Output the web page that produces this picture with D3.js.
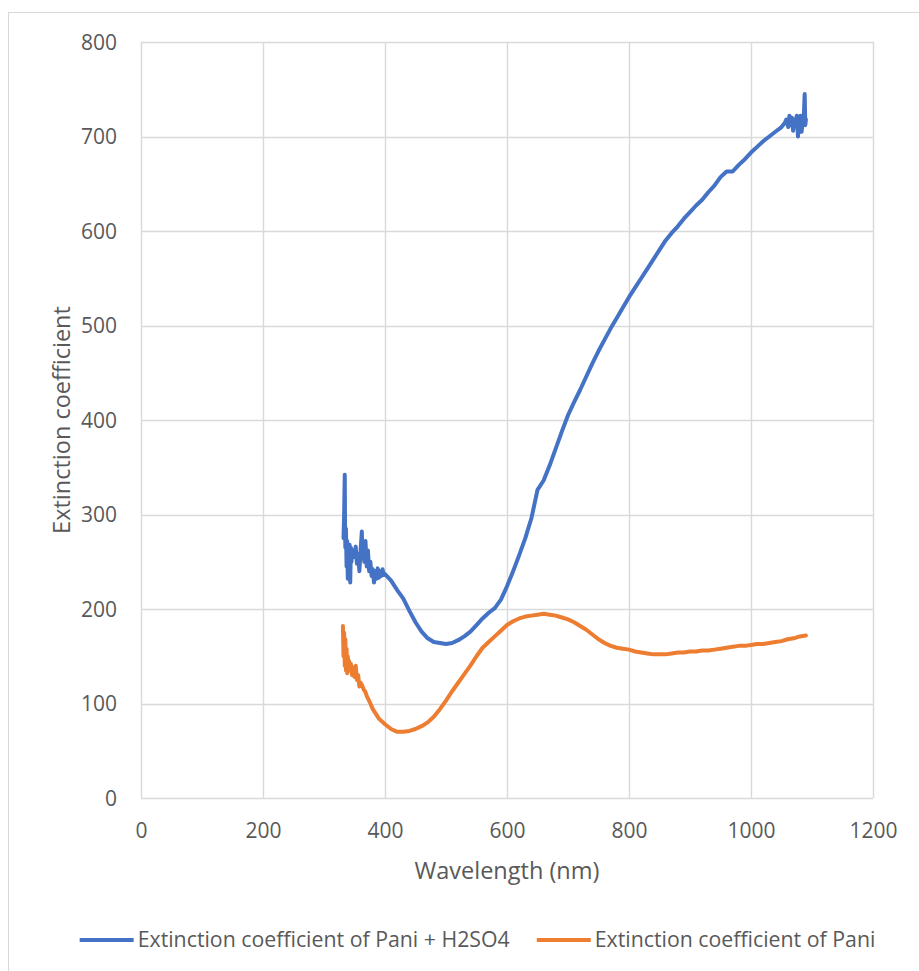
<!DOCTYPE html>
<html><head><meta charset="utf-8">
<script src="https://cdn.jsdelivr.net/npm/d3@7"></script>
<style>
body{margin:0;background:#fff;}
text{font-family:"Open Sans","Noto Sans",sans-serif;fill:#595959;}
</style></head><body>
<svg id="c" width="919" height="971"></svg>
<script>
// ---- Data ----
const xTicks = [0,200,400,600,800,1000,1200];
const yTicks = [0,100,200,300,400,500,600,700,800];
const seriesNames = ["Extinction coefficient of Pani + H2SO4","Extinction coefficient of Pani"];
const seriesColors = ["#4472C4","#ED7D31"];

// Pani + H2SO4: noisy start, smooth middle (400..1050 step 10), noisy end
const h2so4StartWl  = [332,333,334,334.5,335,336,337,338,339,340,341,342,343,344,345,346,348,350,352,354,356,358,360,362,363,364,366,368,370,372,374,376,378,380,382,384,386,388,390,392,394,396,398];
const h2so4StartVal = [275,300,342,290,265,285,245,272,232,262,240,268,228,265,250,258,262,255,266,248,258,240,262,282,255,270,250,272,245,262,240,250,235,242,228,240,232,243,233,240,235,242,236];
const h2so4MidWl    = [400,410,420,430,440,450,460,470,480,490,500,510,520,530,540,550,560,570,580,590,600,610,620,630,640,650,660,670,680,690,700,710,720,730,740,750,760,770,780,790,800,810,820,830,840,850,860,870,880,890,900,910,920,930,940,950,960,970,980,990,1000,1010,1020,1030,1040,1050];
const h2so4MidVal   = [237,230,220,211,198,186,176,169,165,164,163,164,167,171,176,183,190,196,201,210,224,240,257,275,296,326,336,352,370,388,405,419,432,446,460,473,485,497,508,519,530,540,550,560,570,580,590,598,605,613,620,627,633,641,648,657,663,663,670,676,683,689,695,700,705,710];
const h2so4EndWl    = [1055,1058,1061,1063,1065,1067,1069,1071,1073,1075,1077,1079,1081,1083,1085,1086,1087,1088,1089,1090];
const h2so4EndVal   = [714,718,710,722,712,720,706,718,712,722,700,716,722,705,718,712,728,745,712,718];

// Pani: noisy start, smooth rest (380..1090 step 10)
const paniStartWl  = [331,332,333,334,335,336,337,338,339,340,341,342,344,346,348,350,352,354,356,358,360,362,365,368,370,373,376,378];
const paniStartVal = [182,150,175,140,168,135,158,132,150,140,145,135,142,130,138,128,140,125,130,118,122,120,115,112,108,104,100,97];
const paniRestWl   = [380,390,400,410,420,430,440,450,460,470,480,490,500,510,520,530,540,550,560,570,580,590,600,610,620,630,640,650,660,670,680,690,700,710,720,730,740,750,760,770,780,790,800,810,820,830,840,850,860,870,880,890,900,910,920,930,940,950,960,970,980,990,1000,1010,1020,1030,1040,1050,1060,1070,1080,1090];
const paniRestVal  = [94,84,78,73,70,70,71,73,76,80,86,94,103,113,122,131,140,150,159,165,171,177,183,187,190,192,193,194,195,194,193,191,189,186,182,178,173,168,164,161,159,158,157,155,154,153,152,152,152,153,154,154,155,155,156,156,157,158,159,160,161,161,162,163,163,164,165,166,168,169,171,172];

const W = 919, H = 971;
const m = {left:141, right:873, top:42, bottom:798};
const svg = d3.select("#c");

// outer chart border
svg.append("rect").attr("x",8.5).attr("y",12.5).attr("width",W+10).attr("height",H+10)
  .attr("fill","none").attr("stroke","#d9d9d9").attr("stroke-width",1);

const x = d3.scaleLinear().domain([0,1200]).range([m.left,m.right]);
const y = d3.scaleLinear().domain([0,800]).range([m.bottom,m.top]);

// gridlines
const g = svg.append("g");
g.selectAll(".vg").data(xTicks).join("line")
  .attr("x1",d=>Math.round(x(d))+0.5).attr("x2",d=>Math.round(x(d))+0.5)
  .attr("y1",m.top).attr("y2",m.bottom).attr("stroke","#d9d9d9").attr("stroke-width",1.4);
g.selectAll(".hg").data(yTicks).join("line")
  .attr("y1",d=>Math.round(y(d))+0.5).attr("y2",d=>Math.round(y(d))+0.5)
  .attr("x1",m.left).attr("x2",m.right).attr("stroke","#d9d9d9").attr("stroke-width",1.4);

// axes (labels only)
const xAxis = d3.axisBottom(x).tickValues(xTicks).tickSize(0).tickPadding(0).tickFormat(d3.format("d"));
const gx = svg.append("g").attr("transform",`translate(0,${m.bottom})`).call(xAxis);
gx.select(".domain").remove();
gx.selectAll("text").attr("dy",0).attr("y",40).style("font-size","21px").style("font-family",null).attr("fill","#595959");

const yAxis = d3.axisLeft(y).tickValues(yTicks).tickSize(0).tickPadding(0).tickFormat(d3.format("d"));
const gy = svg.append("g").attr("transform",`translate(${m.left-24},0)`).call(yAxis);
gy.select(".domain").remove();
gy.selectAll("text").attr("dy","0.35em").style("font-size","21px").attr("fill","#595959");
svg.selectAll("g.tick text").attr("font-family",null);
gx.attr("font-family",null); gy.attr("font-family",null);

// axis titles
svg.append("text").attr("x",(m.left+m.right)/2).attr("y",879).attr("text-anchor","middle")
  .style("font-size","23.5px").text("Wavelength (nm)");
svg.append("text").attr("transform",`translate(70,${(m.top+m.bottom)/2}) rotate(-90)`)
  .attr("text-anchor","middle").style("font-size","23.5px").text("Extinction coefficient");

// lines
const line = d3.line().x(d=>x(d[0])).y(d=>y(d[1]));
const wl1 = h2so4StartWl.concat(h2so4MidWl, h2so4EndWl);
const v1 = h2so4StartVal.concat(h2so4MidVal, h2so4EndVal);
const wl2 = paniStartWl.concat(paniRestWl);
const v2 = paniStartVal.concat(paniRestVal);
const s1 = wl1.map((w,i)=>[w,v1[i]]);
const s2 = wl2.map((w,i)=>[w,v2[i]]);
[s1,s2].forEach((s,i)=>{
  svg.append("path").datum(s).attr("d",line).attr("fill","none")
    .attr("stroke",seriesColors[i]).attr("stroke-width",4).attr("stroke-linejoin","round").attr("stroke-linecap","round");
});

// legend
const leg = svg.append("g");
let cx = 0;
seriesNames.forEach((n,i)=>{
  const it = leg.append("g").attr("transform",`translate(${cx},0)`);
  it.append("line").attr("x1",0).attr("x2",54).attr("y1",0).attr("y2",0)
    .attr("stroke",seriesColors[i]).attr("stroke-width",4);
  const t = it.append("text").attr("x",58).attr("y",0).attr("dy","0.35em")
    .style("font-size","21.3px").text(n);
  cx += 58 + t.node().getComputedTextLength() + 27;
});
const legW = cx - 27;
leg.attr("transform",`translate(${477.5 - legW/2},940)`);
</script></body></html>
